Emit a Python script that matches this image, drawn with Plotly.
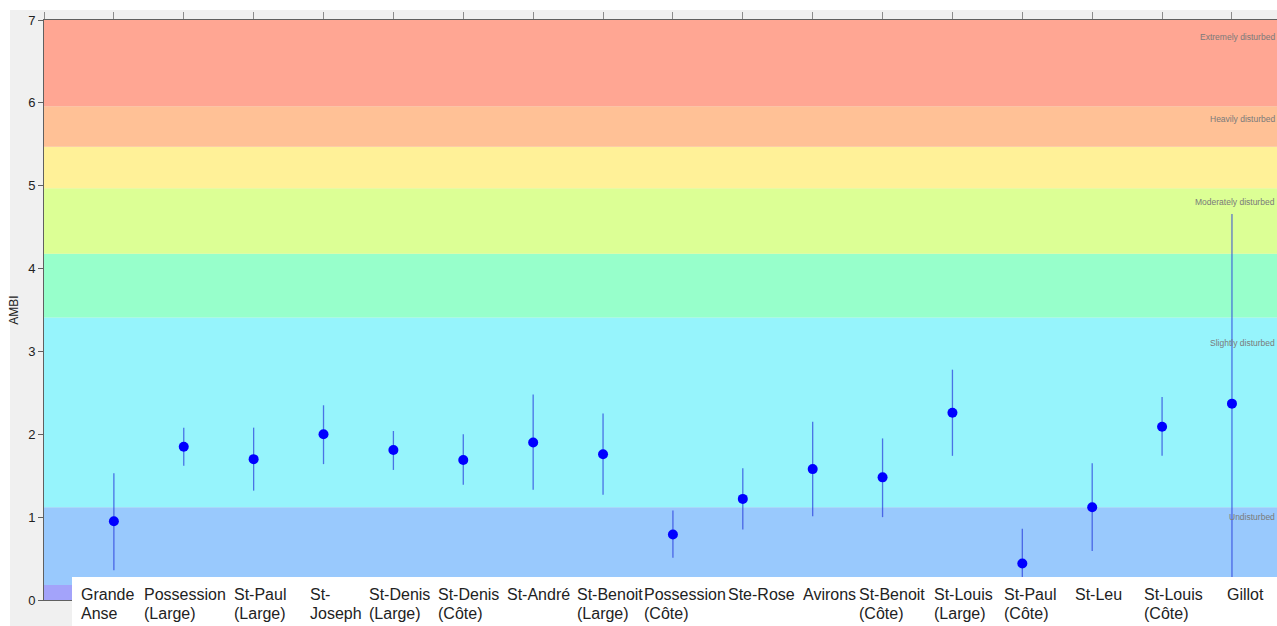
import plotly.graph_objects as go

# ---- data ----
sites = ["Grande<br>Anse", "Possession<br>(Large)", "St-Paul<br>(Large)", "St-<br>Joseph",
         "St-Denis<br>(Large)", "St-Denis<br>(Côte)", "St-André", "St-Benoit<br>(Large)",
         "Possession<br>(Côte)", "Ste-Rose", "Avirons", "St-Benoit<br>(Côte)",
         "St-Louis<br>(Large)", "St-Paul<br>(Côte)", "St-Leu", "St-Louis<br>(Côte)", "Gillot"]
ambi_mean = [0.95, 1.85, 1.70, 2.00, 1.81, 1.69, 1.90, 1.76, 0.79, 1.22, 1.58, 1.48, 2.26, 0.44, 1.12, 2.09, 2.37]
ambi_upper = [1.53, 2.08, 2.08, 2.35, 2.04, 2.00, 2.48, 2.25, 1.08, 1.59, 2.15, 1.95, 2.78, 0.86, 1.65, 2.45, 4.66]
ambi_lower = [0.36, 1.62, 1.32, 1.64, 1.57, 1.39, 1.33, 1.27, 0.51, 0.85, 1.01, 1.00, 1.74, 0.02, 0.59, 1.74, 0.08]

band_edges = [0, 0.18, 1.12, 3.41, 4.18, 4.97, 5.47, 5.96, 7.0]
band_colors = ["#A3A3FA", "#99C9FD", "#96F4FC", "#97FFCB", "#DCFF95", "#FFF198", "#FFC196", "#FFA693"]
status_names = ["Undisturbed", "Slightly disturbed", "Moderately disturbed", "Heavily disturbed", "Extremely disturbed"]
status_thresholds = [1.2, 3.3, 5.0, 6.0, 7.0]

# label pixel offsets from category centre (styling)
label_shift_px = [-34, -41, -21, -15, -25, -26, -27, -27, -30, -16, -11, -25, -19, -19, -18, -19, -6]

xpos = list(range(1, len(sites) + 1))
err_plus = [u - m for u, m in zip(ambi_upper, ambi_mean)]
err_minus = [m - l for m, l in zip(ambi_mean, ambi_lower)]

W, H = 1277, 626
ML, MR, MT, MB = 44, 0, 20, 26
PW, PH = W - ML - MR, H - MT - MB
FONT = "Arial, Liberation Sans, sans-serif"


def px_x(p):
    return (p - ML) / PW


def px_y(p):
    return (H - MB - p) / PH


fig = go.Figure()

fig.add_trace(go.Scatter(
    x=xpos, y=ambi_mean, mode="markers",
    marker=dict(color="#0000FF", size=10),
    error_y=dict(type="data", symmetric=False, array=err_plus, arrayminus=err_minus,
                 color="rgba(40,60,220,0.7)", thickness=1.3, width=0),
    hoverinfo="skip", showlegend=False,
))

shapes = []
# grey backdrop
shapes.append(dict(type="rect", xref="paper", yref="paper", x0=px_x(10), x1=1.0,
                   y0=px_y(H + 5), y1=px_y(10), fillcolor="#F0F0F0", line=dict(width=0), layer="below"))
# status bands
for i, c in enumerate(band_colors):
    shapes.append(dict(type="rect", xref="paper", yref="y", x0=0, x1=1,
                       y0=band_edges[i], y1=band_edges[i + 1], fillcolor=c,
                       line=dict(width=0), layer="below"))
# white label strip
shapes.append(dict(type="rect", xref="paper", yref="paper", x0=px_x(72), x1=1.0,
                   y0=px_y(H + 5), y1=px_y(577), fillcolor="white", line=dict(width=0), layer="above"))

annotations = []
for name, t in zip(status_names, status_thresholds):
    annotations.append(dict(xref="paper", yref="y", x=1.0, y=t - 0.2, text=name, showarrow=False,
                            xanchor="right", yanchor="middle",
                            font=dict(family=FONT, size=8.5, color="#7A7A7A")))
for xp, name, dx in zip(xpos, sites, label_shift_px):
    for k, line in enumerate(name.split("<br>")):
        annotations.append(dict(xref="x", yref="paper", x=xp, y=px_y(594 + 19 * k), text=line,
                                showarrow=False, xanchor="left", yanchor="middle", align="left",
                                xshift=dx, borderpad=0,
                                font=dict(family=FONT, size=16, color="#222222")))

fig.update_layout(
    width=W, height=H,
    margin=dict(l=ML, r=MR, t=MT, b=MB, pad=0),
    paper_bgcolor="white", plot_bgcolor="rgba(0,0,0,0)",
    shapes=shapes, annotations=annotations,
    xaxis=dict(range=[0, PW / 69.88], side="top", tickvals=list(range(0, 18)), showticklabels=False,
               ticks="outside", ticklen=7, tickcolor="#8C8C8C", showline=True, linecolor="#606060",
               mirror=True, showgrid=False, zeroline=False, fixedrange=True),
    yaxis=dict(range=[0, 7], tickvals=list(range(0, 8)), ticks="outside", ticklen=5, tickcolor="#606060",
               showline=True, linecolor="#606060", showgrid=False, zeroline=False,
               tickfont=dict(family=FONT, size=13, color="#222222"),
               title=dict(text="AMBI", font=dict(family=FONT, size=12, color="#222222"),
                          standoff=6),
               fixedrange=True),
)

fig.write_html("out.html", config={"displayModeBar": False})
